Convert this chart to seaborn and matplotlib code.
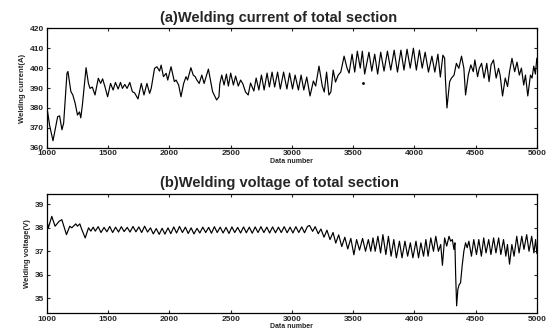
import pandas as pd
import matplotlib
matplotlib.use('Agg')
import matplotlib.pyplot as plt
import seaborn as sns

# Welding current, peaks and troughs (data number, A)
cur_x = [1000, 1022, 1049, 1068, 1087, 1103, 1122, 1136, 1163, 1171, 1195, 1211, 1230, 1249,
         1265, 1276, 1289, 1319, 1338, 1351, 1370, 1392, 1419, 1438, 1454, 1473, 1495, 1519,
         1540, 1559, 1581, 1600, 1616, 1635, 1654, 1676, 1697, 1716, 1743, 1770, 1792, 1816,
         1838, 1851, 1878, 1897, 1919, 1932, 1951, 1973, 1986, 2013, 2040, 2054, 2075, 2094,
         2116, 2135, 2148, 2175, 2194, 2210, 2224, 2243, 2264, 2283, 2318, 2352, 2385, 2404,
         2411, 2427, 2446, 2465, 2481, 2500, 2522, 2540, 2562, 2581, 2600, 2621, 2643, 2662,
         2689, 2708, 2730, 2751, 2773, 2797, 2816, 2838, 2859, 2883, 2905, 2932, 2959, 2981,
         3005, 3026, 3053, 3075, 3097, 3121, 3148, 3175, 3194, 3221, 3248, 3264, 3283, 3302,
         3318, 3337, 3356, 3378, 3399, 3426, 3450, 3467, 3491, 3513, 3534, 3558, 3575, 3594,
         3629, 3652, 3676, 3700, 3725, 3752, 3780, 3807, 3835, 3862, 3890, 3915, 3940, 3966,
         3992, 4016, 4041, 4064, 4088, 4115, 4143, 4167, 4192, 4212, 4233, 4247, 4253, 4266,
         4288, 4302, 4324, 4343, 4363, 4385, 4404, 4418, 4440, 4461, 4481, 4494, 4516, 4530,
         4549, 4569, 4591, 4610, 4626, 4646, 4668, 4687, 4700, 4720, 4742, 4761, 4777, 4797,
         4819, 4838, 4857, 4874, 4893, 4907, 4926, 4948, 4961, 4975, 4988, 5000]
cur_y = [380.0, 371.0, 363.5, 369.7, 375.6, 376.0, 369.0, 372.4, 397.4, 398.3, 388.2, 386.5,
         382.3, 376.4, 378.0, 375.0, 381.5, 400.2, 392.4, 389.8, 390.5, 386.5, 394.9, 392.3,
         394.6, 390.7, 385.6, 392.3, 389.0, 392.8, 389.5, 392.8, 389.8, 391.8, 389.8, 392.8,
         388.2, 387.5, 384.5, 392.3, 386.5, 392.3, 387.3, 389.8, 399.8, 400.7, 398.5, 401.5,
         395.7, 397.4, 394.0, 400.7, 393.2, 394.0, 391.5, 385.6, 392.3, 395.7, 394.0, 400.2,
         396.5, 395.7, 394.0, 392.3, 396.5, 392.3, 399.5, 388.2, 384.0, 385.6,
         392.0, 396.5, 391.5, 397.0, 391.0, 397.5, 391.5, 396.0, 391.0, 394.0, 392.0, 388.0,
         386.5, 392.5, 388.5, 395.0, 389.0, 396.5, 389.0, 397.5, 390.5, 398.0, 390.5, 398.0,
         389.5, 398.0, 389.5, 397.5, 389.5, 396.5, 389.0, 396.5, 389.0, 395.5, 386.0, 393.5,
         391.0, 401.0, 391.0, 388.0, 398.0, 386.5, 388.0, 399.0, 393.0, 396.5, 398.0, 406.0,
         400.0, 397.5, 407.0, 398.0, 408.5, 400.0, 408.5, 397.0,
         408.0, 398.5, 407.0, 397.0, 408.0, 398.5, 408.5, 399.0, 409.0, 398.0, 409.0, 399.0,
         409.5, 400.0, 410.0, 399.0, 409.0, 400.0, 408.0, 398.0, 406.0, 398.0, 407.0, 395.5,
         406.5, 405.0, 395.0, 380.0,
         393.2, 394.9, 396.5, 402.4, 399.9, 406.0, 400.0, 386.5, 396.5, 401.6, 398.2, 404.1,
         395.7, 399.9, 402.4, 395.0, 402.4, 393.2, 401.6, 404.1, 395.0, 399.9, 396.5, 386.0,
         395.0, 390.7, 398.2, 404.9, 398.2, 403.0, 396.5, 400.0, 391.5, 396.5, 386.0, 396.5,
         395.0, 401.0, 397.0, 405.0]
stray_x = [3580]
stray_y = [392.3]

# Welding voltage, peaks and troughs (data number, V)
volt_x = [1000, 1011, 1039, 1066, 1099, 1121, 1159, 1186, 1202, 1235, 1249, 1268, 1284, 1312,
          1339, 1358, 1377, 1394,
          1418, 1441, 1466, 1489, 1512, 1536, 1560, 1584, 1607, 1630, 1655, 1678, 1702, 1726,
          1750, 1773, 1797, 1821, 1845, 1868, 1892, 1916, 1940, 1963, 1988, 2011, 2035, 2058,
          2082, 2106, 2130, 2153, 2177, 2200, 2225, 2248, 2272, 2296, 2320, 2343, 2367, 2390,
          2414, 2438, 2462, 2486, 2510, 2533, 2557, 2581, 2605, 2628, 2652, 2676, 2700, 2723,
          2747, 2771, 2795, 2818, 2842, 2866, 2890, 2913, 2937, 2961, 2985, 3008, 3032, 3056,
          3080, 3103, 3127,
          3144, 3169, 3190, 3215, 3237, 3262, 3286, 3311, 3336, 3358, 3382, 3407, 3432, 3456,
          3481, 3506, 3528, 3552, 3577, 3601, 3624, 3644,
          3662, 3680, 3702, 3724, 3743, 3767, 3788, 3810, 3832, 3853, 3878, 3899, 3923, 3945,
          3967, 3988, 4013, 4034, 4053, 4075, 4094, 4112, 4134, 4156, 4175, 4196, 4215, 4229,
          4247, 4264, 4283, 4296, 4310, 4323, 4331, 4337, 4345, 4355, 4366, 4377, 4390, 4404,
          4418, 4431, 4445, 4466, 4485, 4507, 4526, 4547, 4566, 4585, 4607, 4625, 4647, 4666,
          4688, 4706, 4728, 4747, 4760, 4777, 4796, 4814, 4836, 4855, 4877, 4895, 4917, 4936,
          4958, 4976, 4990, 4998, 5000]
volt_y = [38.28, 38.00, 38.49, 38.07, 38.28, 38.35, 37.71, 38.07, 38.00, 38.17, 38.07, 38.17,
          37.93, 37.57, 38.00, 37.86, 38.03, 37.86,
          38.05, 37.80, 38.02, 37.83, 38.06, 37.80, 38.03, 37.82, 38.05, 37.84, 38.02, 37.82,
          38.06, 37.83, 38.04, 37.80, 38.07, 37.82, 38.00, 37.74, 37.97, 37.72, 37.98, 37.73,
          38.00, 37.75, 38.04, 37.78, 38.06, 37.80, 38.03, 37.76, 38.00, 37.74, 37.98, 37.78,
          38.03, 37.80, 38.02, 37.77, 38.05, 37.80, 38.03, 37.78, 38.02, 37.76, 38.04, 37.80,
          38.02, 37.78, 38.04, 37.79, 38.03, 37.77, 38.04, 37.80, 38.05, 37.80, 38.03, 37.78,
          38.04, 37.79, 38.03, 37.80, 38.05, 37.79, 38.03, 37.78, 38.05, 37.80, 38.04, 37.79,
          38.06,
          38.10, 37.85, 38.05, 37.75, 37.95, 37.60, 37.90, 37.50, 37.80, 37.35, 37.70, 37.20,
          37.60, 37.10, 37.55, 36.85, 37.50, 37.05, 37.55, 37.00, 37.50, 37.00,
          37.57, 37.00, 37.64, 36.93, 37.71, 36.86, 37.64, 36.79, 37.50, 36.72, 37.43, 36.72,
          37.43, 36.79, 37.36, 36.72, 37.43, 36.72, 37.36, 36.79, 37.50, 36.79, 37.57, 37.00,
          37.64, 37.00, 37.29, 36.40, 37.57, 37.22, 37.64, 37.43, 37.50, 37.08, 37.36, 36.00,
          34.67, 35.37, 35.58, 35.65, 36.37, 37.00, 37.36, 37.15, 37.43, 36.79, 37.50, 36.86,
          37.50, 36.79, 37.57, 36.93, 37.50, 36.86, 37.57, 36.93, 37.57, 36.86, 37.50, 36.79,
          37.29, 36.45, 37.29, 36.79, 37.64, 36.93, 37.64, 37.08, 37.71, 37.00, 37.64, 36.93,
          37.50, 37.00, 36.90]

xticks = [1000, 1500, 2000, 2500, 3000, 3500, 4000, 4500, 5000]
cur_ticks = [360, 370, 380, 390, 400, 410, 420]
volt_ticks = [35, 36, 37, 38, 39]

df_cur = pd.DataFrame({'Data number': cur_x, 'Welding current(A)': cur_y})
df_volt = pd.DataFrame({'Data number': volt_x, 'Welding voltage(V)': volt_y})

sns.set_style('ticks')
plt.rcParams['font.family'] = ['Liberation Sans', 'DejaVu Sans']
plt.rcParams['font.weight'] = 'bold'
plt.rcParams['xtick.direction'] = 'in'
plt.rcParams['ytick.direction'] = 'in'

fig = plt.figure(figsize=(5.51, 3.29), dpi=100)
ax1 = fig.add_axes([0.0853, 0.551, 0.889, 0.363])
ax2 = fig.add_axes([0.0853, 0.049, 0.889, 0.361])

sns.lineplot(data=df_cur, x='Data number', y='Welding current(A)', ax=ax1,
             color='black', linewidth=0.85, estimator=None, sort=False)
ax1.plot(stray_x, stray_y, 'k.', markersize=2)
sns.lineplot(data=df_volt, x='Data number', y='Welding voltage(V)', ax=ax2,
             color='black', linewidth=0.85, estimator=None, sort=False)

ax1.set_ylim(360, 420)
ax1.set_yticks(cur_ticks)
ax2.set_ylim(34.37, 39.44)
ax2.set_yticks(volt_ticks)

for ax in (ax1, ax2):
    ax.set_xlim(1000, 5000)
    ax.set_xticks(xticks)
    ax.tick_params(labelsize=6, length=2.5, width=0.8, top=True, right=True, pad=2)
    for lbl in ax.get_xticklabels() + ax.get_yticklabels():
        lbl.set_fontweight('bold')
    for s in ax.spines.values():
        s.set_linewidth(0.9)
        s.set_color('black')
    ax.xaxis.label.set_size(5)
    ax.xaxis.label.set_weight('bold')
    ax.xaxis.labelpad = 0.5
    ax.yaxis.label.set_size(5.5)
    ax.yaxis.label.set_weight('bold')
    ax.yaxis.labelpad = 3

ax1.text(0.472, 1.085, '(a)Welding current of total section', transform=ax1.transAxes,
         ha='center', va='center', fontsize=10.5, fontweight='bold')
ax2.text(0.475, 1.095, '(b)Welding voltage of total section', transform=ax2.transAxes,
         ha='center', va='center', fontsize=10.5, fontweight='bold')

fig.savefig('out.png', dpi=100)
